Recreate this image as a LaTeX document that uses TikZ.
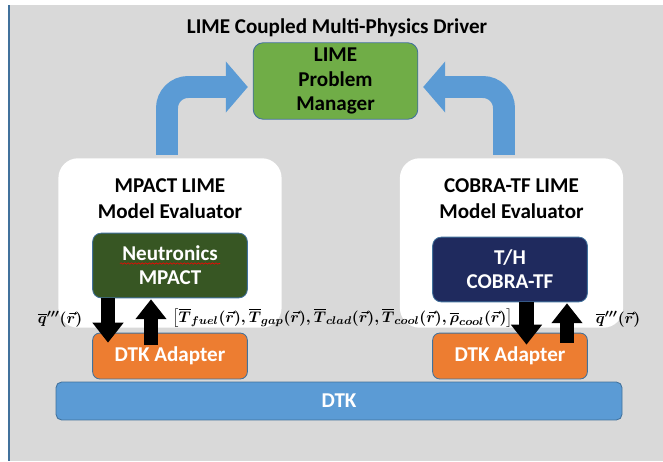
\documentclass[tikz,border=0pt]{standalone}
\usepackage{fontspec}
\usepackage{amsmath}
\usepackage{bm}
\setmainfont{Carlito}
\usetikzlibrary{shapes.geometric, arrows, arrows.meta, positioning, calc, decorations.pathmorphing}
\definecolor{bggray}{HTML}{D9D9D9}
\definecolor{edgeblue}{HTML}{41719C}
\definecolor{limegreen}{HTML}{70AD47}
\definecolor{neutgreen}{HTML}{375623}
\definecolor{thnavy}{HTML}{1F2A5E}
\definecolor{dtkorange}{HTML}{ED7D31}
\definecolor{dtkblue}{HTML}{5B9BD5}
\tikzstyle{manager} = [rectangle, rounded corners=7pt, minimum width=117pt, minimum height=54pt, align=center, draw=edgeblue, line width=0.6pt, fill=limegreen, font=\bfseries\fontsize{15}{17.7}\selectfont]
\tikzstyle{evaluator} = [rectangle, rounded corners=14pt, minimum width=158.7pt, minimum height=120.5pt, fill=white]
\tikzstyle{evaltext} = [align=center, font=\bfseries\fontsize{15}{18.4}\selectfont]
\tikzstyle{physics} = [rectangle, rounded corners=6pt, minimum width=110pt, minimum height=46pt, align=center, draw=edgeblue, line width=0.6pt, text=white, font=\bfseries\fontsize{15}{17}\selectfont]
\tikzstyle{adapter} = [rectangle, rounded corners=5pt, minimum width=110pt, minimum height=32.6pt, draw=edgeblue, line width=0.6pt, fill=dtkorange, text=white, font=\bfseries\fontsize{15}{17}\selectfont]
\tikzstyle{transfer} = [rectangle, rounded corners=4pt, minimum width=402.5pt, minimum height=27pt, draw=edgeblue, line width=0.6pt, fill=dtkblue, text=white, font=\bfseries\fontsize{15}{17}\selectfont]
\tikzstyle{bigarrow} = [draw=dtkblue, line width=15.6pt, rounded corners=15pt, -{Triangle[length=15.6pt,width=35.4pt]}]
\tikzstyle{fluxarrow} = [draw=black, line width=10.6pt, -{Triangle[length=14.2pt,width=21.3pt]}]
\tikzstyle{field} = [inner sep=0pt, font=\boldmath\fontsize{11.4}{14}\selectfont]

\begin{document}
\begin{tikzpicture}[x=0.025cm, y=-0.025cm]
    \useasboundingbox (0,0) rectangle (663,461);
    \fill[bggray] (9,5) rectangle (663,461);
    \draw[edgeblue, line width=0.8pt] (9,5) -- (9,461);

    \node (title) at (337,28) [font=\bfseries\fontsize{15}{18}\selectfont] {LIME Coupled Multi-Physics Driver};
    \node (lime) at (335.5,81) [manager] {LIME\\Problem\\Manager};

    \node (evalL) at (170,243) [evaluator] {};
    \node (evalR) at (511.5,243) [evaluator] {};
    \node (evalLtxt) at ($(evalL.north)+(0,41)$) [evaltext] {MPACT LIME\\Model Evaluator};
    \node (evalRtxt) at ($(evalR.north)+(0,41)$) [evaltext] {COBRA-TF LIME\\Model Evaluator};

    \node (mpact) at (170,265.5) [physics, fill=neutgreen] {Neutronics\\MPACT};
    \node (cobra) at (510,269.5) [physics, fill=thnavy] {T/H\\COBRA-TF};
    \node (adaptL) at (170,356) [adapter] {DTK Adapter};
    \node (adaptR) at (510,356) [adapter] {DTK Adapter};
    \node (dtk) at (339,401) [transfer] {DTK};

    % spell-check mark under Neutronics
    \draw[red, line width=0.4pt, decorate, decoration={snake, amplitude=0.5pt, segment length=2.5pt}] ($(mpact.center)+(-50,-2)$) -- ($(mpact.center)+(50,-2)$);

    \draw [bigarrow] ($(evalL.north)+(-3,-3)$) |- ($(lime.west)+(-5,6)$);
    \draw [bigarrow] ($(evalR.north)+(-7.5,-3)$) |- ($(lime.east)+(5,6)$);

    \draw [fluxarrow] ($(mpact.south)+(-62,0)$) -- ($(adaptL.north)+(-62,10)$);
    \draw [fluxarrow] ($(adaptL.north)+(-19,12)$) -- ($(mpact.south)+(-19,1)$);
    \draw [fluxarrow] ($(cobra.south)+(16.5,0)$) -- ($(adaptR.north)+(16.5,12)$);
    \draw [fluxarrow] ($(adaptR.north)+(57,10)$) -- ($(cobra.south)+(57,1)$);

    \node (qL) at (60,319) [field] {$\overline{q}'''(\vec{r})$};
    \node (temps) at (342.5,318) [field] {$\big[\overline{T}_{fuel}(\vec{r}),\overline{T}_{gap}(\vec{r}),\overline{T}_{clad}(\vec{r}),\overline{T}_{cool}(\vec{r}),\overline{\rho}_{cool}(\vec{r})\big]$};
    \node (qR) at (618,319) [field] {$\overline{q}'''(\vec{r})$};
\end{tikzpicture}
\end{document}
